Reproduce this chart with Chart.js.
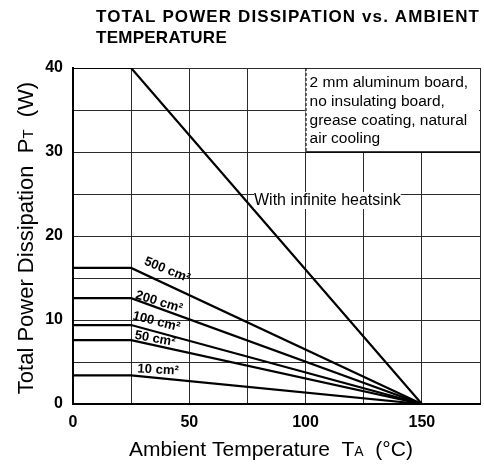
<!DOCTYPE html>
<html>
<head>
<meta charset="utf-8">
<script src="https://cdn.jsdelivr.net/npm/chart.js@4.4.0/dist/chart.umd.min.js"></script>
<style>
    html, body { margin: 0; padding: 0; background: #fff; }
    #wrap { width: 484px; height: 465px; }
</style>
</head>
<body>
<div id="wrap"><canvas id="myChart" width="484" height="465"></canvas></div>
<script>
// values
const temps = [0, 25, 150];
const infiniteHeatsink = [40, 40, 0];
const board500 = [16.2, 16.2, 0];
const board200 = [12.6, 12.6, 0];
const board100 = [9.4, 9.4, 0];
const board50 = [7.6, 7.6, 0];
const board10 = [3.4, 3.4, 0];
const xTickLabels = [0, 50, 100, 150];
const yTickLabels = [0, 10, 20, 30, 40];
const boardNames = ['500 cm²', '200 cm²', '100 cm²', '50 cm²', '10 cm²'];
const noteLines = ['2 mm aluminum board,', 'no insulating board,', 'grease coating, natural', 'air cooling'];

// where the curve names sit (data coords) and their tilt in degrees
const nameSpots = [
    { x: 40.5, y: 15.95, angle: 22 },
    { x: 37.0, y: 12.15, angle: 17 },
    { x: 35.8, y: 9.8, angle: 14 },
    { x: 35.3, y: 7.75, angle: 10 },
    { x: 36.6, y: 4.05, angle: 3 }
];

const FONT = '"Liberation Sans", Arial, sans-serif';

function toPoints(ys) {
    return temps.map((t, i) => ({ x: t, y: ys[i] }));
}

function curve(ys) {
    return {
        data: toPoints(ys),
        borderColor: '#000',
        borderWidth: 2.2,
        pointRadius: 0,
        tension: 0,
        fill: false
    };
}

// draws pieces of text with different fonts on one baseline
function drawRuns(ctx, runs, x, y) {
    let total = 0;
    runs.forEach(r => { ctx.font = r.font; total += ctx.measureText(r.text).width; });
    let cx = x - total / 2;
    ctx.textAlign = 'left';
    runs.forEach(r => {
        ctx.font = r.font;
        ctx.fillText(r.text, cx, y);
        cx += ctx.measureText(r.text).width;
    });
}

function fitText(ctx, text, x, y, width) {
    ctx.letterSpacing = '0px';
    const w = ctx.measureText(text).width;
    ctx.letterSpacing = ((width - w) / text.length) + 'px';
    ctx.fillText(text, x, y);
    ctx.letterSpacing = '0px';
}

const extras = {
    id: 'extras',
    beforeDatasetsDraw(chart) {
        const ctx = chart.ctx;
        const xs = chart.scales.x, ys = chart.scales.y;
        const left = xs.getPixelForValue(100), top = ys.getPixelForValue(40);
        const right = xs.getPixelForValue(175), bottom = ys.getPixelForValue(30);
        ctx.save();
        ctx.fillStyle = '#fff';
        ctx.fillRect(left, top + 1, right - left - 1, bottom - top - 1);
        ctx.strokeStyle = '#000';
        ctx.lineWidth = 1;
        ctx.setLineDash([3, 2]);
        ctx.beginPath();
        ctx.moveTo(left + 0.5, top);
        ctx.lineTo(left + 0.5, bottom);
        ctx.stroke();
        ctx.setLineDash([]);
        ctx.lineWidth = 1.5;
        ctx.beginPath();
        ctx.moveTo(left, bottom);
        ctx.lineTo(right, bottom);
        ctx.stroke();
        ctx.restore();
    },
    afterDatasetsDraw(chart) {
        const ctx = chart.ctx;
        const xs = chart.scales.x, ys = chart.scales.y;
        ctx.save();
        ctx.fillStyle = '#000';
        ctx.textBaseline = 'alphabetic';

        // note in the box
        ctx.font = '15.5px ' + FONT;
        ctx.textAlign = 'left';
        const nx = xs.getPixelForValue(100) + 4;
        noteLines.forEach((line, i) => {
            ctx.fillText(line, nx, 87 + i * 18.8);
        });

        // infinite heatsink label
        ctx.font = '16px ' + FONT;
        const hx = 254, hy = 205;
        const hw = ctx.measureText('With infinite heatsink').width;
        ctx.fillStyle = '#fff';
        ctx.fillRect(hx, hy - 13, hw, 17);
        ctx.fillStyle = '#000';
        ctx.fillText('With infinite heatsink', hx, hy);

        // board area names
        ctx.font = 'bold 13px ' + FONT;
        ctx.textAlign = 'center';
        ctx.textBaseline = 'middle';
        boardNames.forEach((name, i) => {
            const s = nameSpots[i];
            ctx.save();
            ctx.translate(xs.getPixelForValue(s.x), ys.getPixelForValue(s.y));
            ctx.rotate(s.angle * Math.PI / 180);
            ctx.fillText(name, 0, 0);
            ctx.restore();
        });
        ctx.restore();
    },
    afterDraw(chart) {
        const ctx = chart.ctx;
        ctx.save();
        ctx.fillStyle = '#000';
        ctx.textBaseline = 'alphabetic';
        ctx.textAlign = 'left';

        // title
        ctx.font = 'bold 17px ' + FONT;
        fitText(ctx, 'TOTAL POWER DISSIPATION vs. AMBIENT', 96, 22, 384);
        fitText(ctx, 'TEMPERATURE', 96, 43, 131);

        // x axis title
        drawRuns(ctx, [
            { text: 'Ambient Temperature  T', font: '21px ' + FONT },
            { text: 'A', font: '14px ' + FONT },
            { text: '  (°C)', font: '21px ' + FONT }
        ], 271, 456);

        // y axis title
        ctx.translate(33, 238);
        ctx.rotate(-Math.PI / 2);
        drawRuns(ctx, [
            { text: 'Total Power Dissipation  P', font: '22px ' + FONT },
            { text: 'T', font: '15px ' + FONT },
            { text: '  (W)', font: '22px ' + FONT }
        ], 0, 0);
        ctx.restore();
    }
};

new Chart(document.getElementById('myChart'), {
    type: 'line',
    data: {
        datasets: [
            curve(infiniteHeatsink),
            curve(board500),
            curve(board200),
            curve(board100),
            curve(board50),
            curve(board10)
        ]
    },
    options: {
        responsive: false,
        animation: false,
        layout: { padding: { top: 68, right: 4, left: 0, bottom: 0 } },
        plugins: {
            legend: { display: false },
            tooltip: { enabled: false }
        },
        scales: {
            x: {
                type: 'linear',
                min: 0,
                max: 175,
                afterFit: scale => {
                    scale.height = 61;
                    scale.paddingLeft = 0;
                    scale.paddingRight = 0;
                },
                ticks: {
                    stepSize: 25,
                    padding: 9,
                    color: '#000',
                    font: { family: FONT, size: 16, weight: 'bold' },
                    maxRotation: 0,
                    callback: v => xTickLabels.includes(v) ? String(v) : ''
                },
                grid: { color: '#2b2b2b', lineWidth: 1, drawTicks: false },
                border: { display: true, color: '#000', width: 2 }
            },
            y: {
                min: 0,
                max: 40,
                afterFit: scale => { scale.width = 73; },
                ticks: {
                    stepSize: 5,
                    padding: 10,
                    color: '#000',
                    font: { family: FONT, size: 16, weight: 'bold' },
                    callback: v => yTickLabels.includes(v) ? String(v) : ''
                },
                grid: { color: '#2b2b2b', lineWidth: 1, drawTicks: false },
                border: { display: true, color: '#000', width: 2 }
            }
        }
    },
    plugins: [extras]
});
</script>
</body>
</html>
